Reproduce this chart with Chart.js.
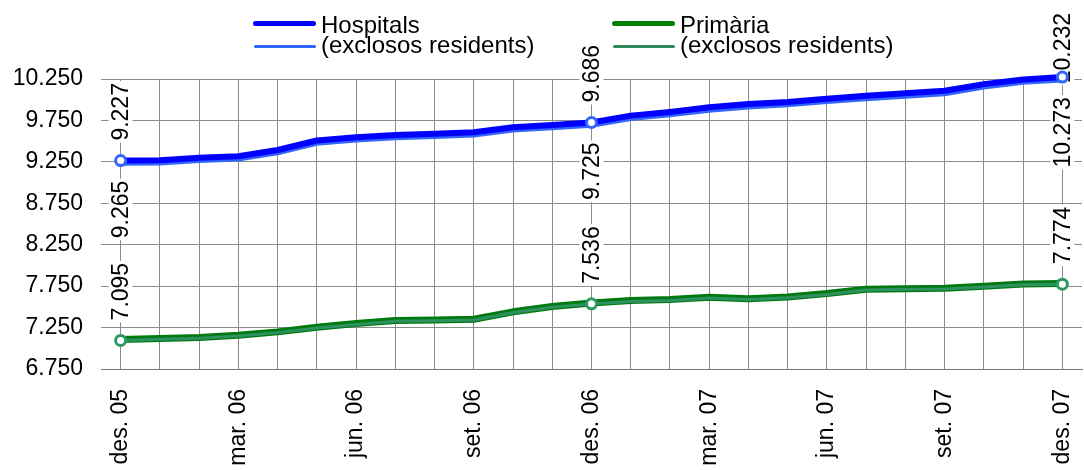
<!DOCTYPE html>
<html>
<head>
<meta charset="utf-8">
<script src="https://cdn.jsdelivr.net/npm/chart.js@4.4.1/dist/chart.umd.min.js"></script>
<style>
  body { margin: 0; background: #fff; }
  #wrap { position: relative; width: 1084px; height: 470px; font-family: "Liberation Sans", Arial, sans-serif; }
  #chart { position: absolute; left: 0; top: 0; }
  .lg-line { position: absolute; border-radius: 3px; }
  .lg-text { position: absolute; font-size: 24px; line-height: 20px; color: #000; white-space: nowrap; }
</style>
</head>
<body>
<div id="wrap">
  <canvas id="chart" width="1084" height="470"></canvas>
  <div class="lg-line" style="left:253px;top:21px;width:63px;height:5px;background:#0000ff"></div>
  <div class="lg-text" style="left:321px;top:15px">Hospitals</div>
  <div class="lg-line" style="left:254px;top:44.5px;width:62px;height:3px;background:#3366ff"></div>
  <div class="lg-text" style="left:321px;top:35px">(exclosos residents)</div>
  <div class="lg-line" style="left:612px;top:21px;width:63px;height:5px;background:#008000"></div>
  <div class="lg-text" style="left:680px;top:15px">Primària</div>
  <div class="lg-line" style="left:613px;top:44.5px;width:62px;height:3px;background:#2e8b57"></div>
  <div class="lg-text" style="left:680px;top:35px">(exclosos residents)</div>
</div>
<script>
// months des. 05 .. des. 07
const months = ["des. 05", "gen. 06", "febr. 06", "mar. 06", "abr. 06", "maig 06", "jun. 06",
  "jul. 06", "ag. 06", "set. 06", "oct. 06", "nov. 06", "des. 06", "gen. 07", "febr. 07",
  "mar. 07", "abr. 07", "maig 07", "jun. 07", "jul. 07", "ag. 07", "set. 07", "oct. 07",
  "nov. 07", "des. 07"];

const hospitals = [9265, 9268, 9300, 9318, 9393, 9508, 9548, 9574, 9588, 9608, 9668, 9694, 9725,
  9808, 9853, 9908, 9948, 9973, 10013, 10048, 10078, 10108, 10188, 10245, 10273];
const hospitalsExcl = [9227, 9229, 9261, 9279, 9354, 9469, 9508, 9535, 9549, 9569, 9629, 9655, 9686,
  9768, 9813, 9867, 9907, 9932, 9972, 10007, 10037, 10067, 10147, 10204, 10232];
const primaria = [7105, 7118, 7130, 7157, 7198, 7255, 7298, 7334, 7340, 7350, 7440, 7505, 7546,
  7576, 7588, 7615, 7598, 7620, 7660, 7712, 7720, 7724, 7750, 7777, 7783];
const primariaExcl = [7095, 7108, 7121, 7148, 7189, 7246, 7288, 7325, 7331, 7341, 7431, 7496, 7536,
  7566, 7578, 7606, 7589, 7611, 7650, 7703, 7711, 7715, 7740, 7768, 7774];

const yMin = 6750;
const yMax = 10250;
const yStep = 250;
const yLabelStep = 500;
const markedIdx = [0, 12, 24];

const FONT = '"Liberation Sans", Arial, sans-serif';
Chart.defaults.font.family = FONT;
Chart.defaults.font.size = 23;
Chart.defaults.color = "#000";

function fmt(v) {
  return String(v).replace(/\B(?=(\d{3})+(?!\d))/g, ".");
}

function markerRadius(ctx) {
  return markedIdx.includes(ctx.dataIndex) ? 5 : 0;
}

// vertical value labels on white boxes, above / below the marked points
const labelSpecs = [
  { ds: 1, anchor: 0, side: "up" },
  { ds: 0, anchor: 0, side: "down" },
  { ds: 3, anchor: 3, side: "up" },
];

const valueLabels = {
  id: "valueLabels",
  beforeDatasetsDraw(chart) {
    const ctx = chart.ctx;
    ctx.save();
    ctx.font = "23px " + FONT;
    ctx.textAlign = "center";
    ctx.textBaseline = "middle";
    labelSpecs.forEach(function (spec) {
      const data = chart.data.datasets[spec.ds].data;
      const meta = chart.getDatasetMeta(spec.anchor);
      markedIdx.forEach(function (i) {
        const pt = meta.data[i];
        const txt = fmt(data[i]);
        const w = ctx.measureText(txt).width;
        let cy;
        if (spec.side === "up") {
          cy = pt.y - 20 - w / 2;
          if (cy - w / 2 < 13) cy = 13 + w / 2;
        } else {
          cy = pt.y + 20 + w / 2;
        }
        ctx.fillStyle = "#fff";
        ctx.fillRect(pt.x - 12, cy - w / 2 - 2, 24, w + 4);
        ctx.save();
        ctx.translate(pt.x + 1, cy);
        ctx.rotate(-Math.PI / 2);
        ctx.fillStyle = "#000";
        ctx.fillText(txt, 0, 0);
        ctx.restore();
      });
    });
    ctx.restore();
  },
};

const ctx1 = document.getElementById("chart").getContext("2d");

new Chart(ctx1, {
  type: "line",
  data: {
    labels: months,
    datasets: [
      {
        label: "Hospitals",
        data: hospitals,
        borderColor: "#0000ff",
        borderWidth: 6,
        order: 0,
        pointRadius: markerRadius,
        pointBackgroundColor: "#fff",
        pointBorderColor: "#3366ff",
        pointBorderWidth: 3,
      },
      {
        label: "(exclosos residents)",
        data: hospitalsExcl,
        borderColor: "#3366ff",
        borderWidth: 4,
        order: 1,
        pointRadius: 0,
      },
      {
        label: "Primària",
        data: primaria,
        borderColor: "#007a10",
        borderWidth: 7,
        order: 3,
        pointRadius: 0,
      },
      {
        label: "(exclosos residents)",
        data: primariaExcl,
        borderColor: "#2e9160",
        borderWidth: 3,
        order: 2,
        pointRadius: markerRadius,
        pointBackgroundColor: "#fff",
        pointBorderColor: "#2e9960",
        pointBorderWidth: 3,
      },
    ].map(function (d) {
      return Object.assign({ tension: 0, clip: false, borderJoinStyle: "round", borderCapStyle: "round", fill: false }, d);
    }),
  },
  options: {
    responsive: false,
    animation: false,
    devicePixelRatio: 1,
    layout: { autoPadding: false, padding: { top: 79, right: 2, left: 0, bottom: 0 } },
    plugins: {
      legend: { display: false },
      tooltip: { enabled: false },
    },
    scales: {
      x: {
        offset: true,
        grid: { color: "#8c8c8c", lineWidth: 1, offset: false, drawTicks: false },
        border: { color: "#777", width: 1 },
        ticks: {
          autoSkip: false,
          minRotation: 90,
          maxRotation: 90,
          padding: 20,
          color: "#000",
          callback: function (v, i) {
            return i % 3 === 0 ? months[i] : "";
          },
        },
        afterFit: function (s) {
          s.height = 101;
          s.paddingLeft = 0;
          s.paddingRight = 0;
        },
      },
      y: {
        min: yMin,
        max: yMax,
        grid: { color: "#8c8c8c", lineWidth: 1, drawTicks: false },
        border: { display: false },
        ticks: {
          stepSize: yStep,
          padding: 18,
          color: "#000",
          callback: function (v) {
            return (v - yMin) % yLabelStep === 0 ? fmt(v) : "";
          },
        },
        afterFit: function (s) {
          s.width = 101;
        },
      },
    },
  },
  plugins: [valueLabels],
});
</script>
</body>
</html>
